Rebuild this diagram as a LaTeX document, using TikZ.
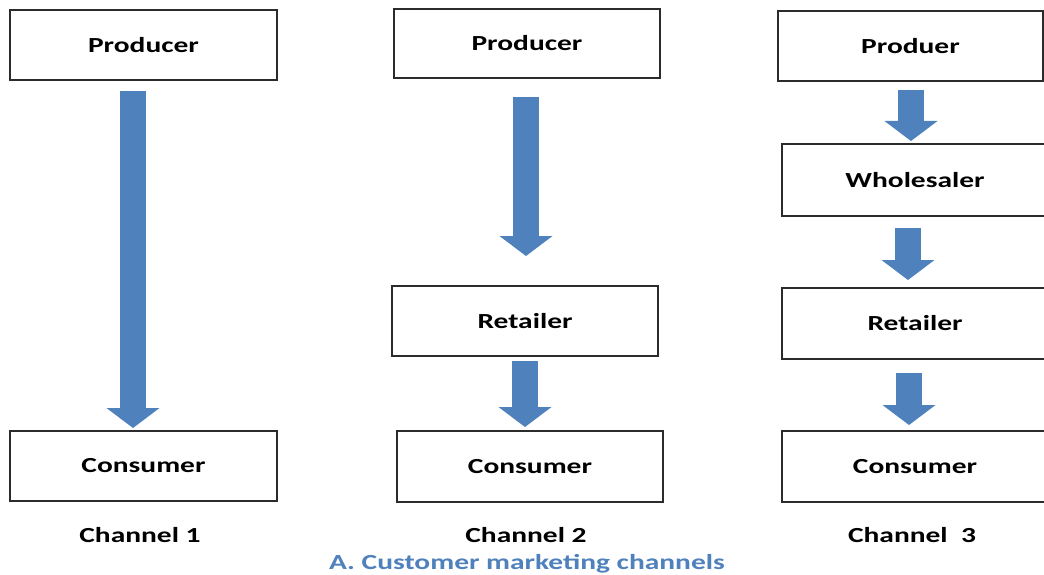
\documentclass[tikz,border=0pt]{standalone}
\usepackage{fontspec}
\setmainfont{Carlito}
\usetikzlibrary{arrows.meta,calc}
\definecolor{arrowblue}{HTML}{4F81BD}
\definecolor{boxline}{HTML}{2B2B2B}
\newcommand{\widetext}[1]{\scalebox{1.37}[1]{#1}}
\tikzset{
  chbox/.style={draw=boxline, line width=1.5pt, rectangle, minimum width=266pt, minimum height=70pt, inner sep=0pt, outer sep=0pt, fill=white,
    font=\fontsize{21.5}{24}\selectfont\bfseries, text=black},
  chlabel/.style={inner sep=0pt, font=\fontsize{21.5}{24}\selectfont\bfseries, text=black},
  caption/.style={inner sep=0pt, font=\fontsize{21.5}{24}\selectfont\bfseries, text=arrowblue},
  blockarrow/.style={draw=arrowblue, line width=26pt, line cap=butt,
    -{Triangle[width=53pt,length=20pt,line width=0pt]}}
}
\begin{document}
\begin{tikzpicture}[x=1pt,y=-1pt]
\useasboundingbox[fill=white] (0,0) rectangle (1044,575);
% Channel 1
\node[chbox, minimum width=267pt] (c1p) at (143.5,45) {\widetext{Producer}};
\node[chbox, minimum width=267pt] (c1c) at (143.5,466) {\widetext{Consumer}};
\node[chlabel] (l1) at (140,535) {\widetext{Channel 1}};
% Channel 2
\node[chbox, minimum height=69pt] (c2p) at (527,43.5) {\widetext{Producer}};
\node[chbox] (c2r) at (525,321) {\widetext{Retailer}};
\node[chbox, minimum height=71pt] (c2c) at (530,466.5) {\widetext{Consumer}};
\node[chlabel] (l2) at (526,535) {\widetext{Channel 2}};
% Channel 3
\node[chbox, minimum width=265pt] (c3p) at (910.5,46) {\widetext{Produer}};
\node[chbox, minimum height=72pt] (c3w) at (915,180) {\widetext{Wholesaler}};
\node[chbox, minimum height=71pt] (c3r) at (915,323.5) {\widetext{Retailer}};
\node[chbox, minimum height=71pt] (c3c) at (915,466.5) {\widetext{Consumer}};
\node[chlabel] (l3) at (912,535) {\widetext{Channel\ \ 3}};
% Caption
\node[caption] (cap) at (527,563.5) {\widetext{A. Customer marketing channels}};
% Arrows
\draw[blockarrow] ($(c1p.south)+(-10.5,11)$) -- ($(c1c.north)+(-10.5,-3)$);
\draw[blockarrow] ($(c2p.south)+(-1,19)$) -- ($(c2r.north)+(1,-30)$);
\draw[blockarrow] ($(c2r.south)+(0,5)$) -- ($(c2c.north)+(-5,-4)$);
\draw[blockarrow] ($(c3p.south)+(0.5,9)$) -- ($(c3w.north)+(-4,-3)$);
\draw[blockarrow] ($(c3w.south)+(-7,12)$) -- ($(c3r.north)+(-7,-8)$);
\draw[blockarrow] ($(c3r.south)+(-6,14)$) -- ($(c3c.north)+(-6,-6)$);
\end{tikzpicture}
\end{document}
